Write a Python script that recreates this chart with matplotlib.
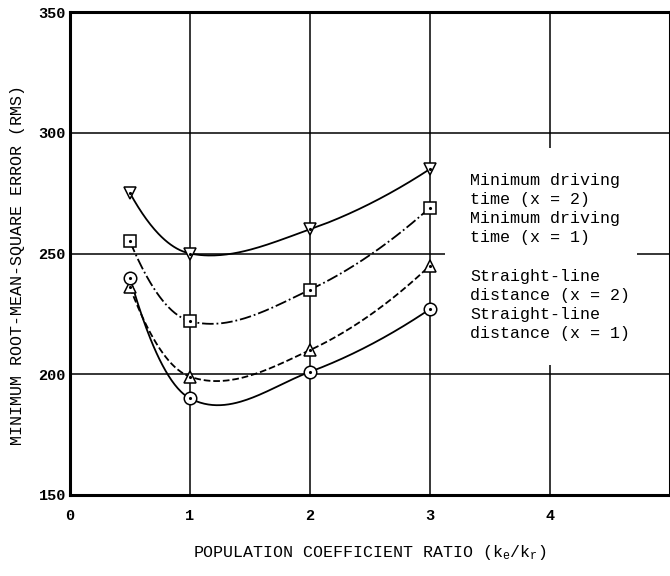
import numpy as np
import matplotlib
matplotlib.use('Agg')
import matplotlib.pyplot as plt
from matplotlib.patches import Rectangle

plt.rcParams['font.family'] = ['Liberation Mono', 'DejaVu Sans Mono']
plt.rcParams['mathtext.fontset'] = 'custom'
plt.rcParams['mathtext.rm'] = 'Liberation Mono'
plt.rcParams['mathtext.it'] = 'Liberation Mono'

# population coefficient ratio ke/kr
ratio = [0.5, 1, 2, 3]

# minimum RMS error per method
drive_x2 = [275, 250, 260, 285]
drive_x1 = [255, 222, 235, 269]
line_x2 = [236, 199, 210, 245]
line_x1 = [240, 190, 201, 227]

labels = ['Minimum driving\ntime (x = 2)', 'Minimum driving\ntime (x = 1)',
          'Straight-line\ndistance (x = 2)', 'Straight-line\ndistance (x = 1)']
markers = ['v', 's', '^', 'o']
styles = ['-', '-.', '--', '-']

xticks = [0, 1, 2, 3, 4]
yticks = [150, 200, 250, 300, 350]


def smooth(x, y, n=60):
    # french-curve look: cubic hermite pieces through the points
    x = np.asarray(x, float)
    y = np.asarray(y, float)
    s = np.diff(y) / np.diff(x)
    m = np.empty_like(y)
    m[1:-1] = (y[2:] - y[:-2]) / (x[2:] - x[:-2])
    m[0] = 2 * s[0] - m[1]
    m[-1] = 2 * s[-1] - m[-2]
    xs, ys = [], []
    for i in range(len(x) - 1):
        h = x[i + 1] - x[i]
        t = np.linspace(0, 1, n)
        h00 = 2 * t**3 - 3 * t**2 + 1
        h10 = t**3 - 2 * t**2 + t
        h01 = -2 * t**3 + 3 * t**2
        h11 = t**3 - t**2
        xs.append(x[i] + t * h)
        ys.append(h00 * y[i] + h10 * h * m[i] + h01 * y[i + 1] + h11 * h * m[i + 1])
    return np.concatenate(xs), np.concatenate(ys)


fig = plt.figure(figsize=(6.7, 5.76), dpi=100)
ax = fig.add_axes([70 / 670, 81 / 576, 600 / 670, 483 / 576])

for y, m, ls in zip([drive_x2, drive_x1, line_x2, line_x1], markers, styles):
    xs, ys = smooth(ratio, y)
    ax.plot(xs, ys, color='black', lw=1.3, ls=ls, zorder=2)
    ax.plot(ratio, y, ls='none', marker=m, ms=9, mfc='white', mec='black', mew=1.1, zorder=3)
    ax.plot(ratio, y, ls='none', marker='.', ms=2.5, color='black', zorder=4)

ax.set_xlim(0, 5)
ax.set_ylim(150, 350)
ax.set_xticks(xticks)
ax.set_yticks(yticks)
ax.tick_params(length=0, labelsize=11, pad=3)
ax.tick_params(axis='x', pad=10)
for t in ax.get_yticklabels() + ax.get_xticklabels():
    t.set_fontweight('bold')
ax.set_axisbelow(True)
ax.grid(True, color='black', lw=1.1)
for s in ax.spines.values():
    s.set_linewidth(2.2)

# blank area behind the key text
ax.add_patch(Rectangle((0.625, 0.269), 0.32, 0.449, transform=ax.transAxes,
                       facecolor='white', edgecolor='none', zorder=1))
key = '\n'.join(labels[:2]) + '\n\n' + '\n'.join(labels[2:])
ax.text(0.667, 0.6675, key, transform=ax.transAxes, fontsize=12, va='top', ha='left',
        linespacing=1.35, zorder=5)

fig.text(370 / 670, 1 - 553 / 576, r'POPULATION COEFFICIENT RATIO (k$_e$/k$_r$)',
         fontsize=12, ha='center', va='center')
fig.text(18 / 670, 1 - 265 / 576, 'MINIMUM ROOT-MEAN-SQUARE ERROR (RMS)',
         fontsize=12, rotation=90, ha='center', va='center')

fig.savefig('out.png', dpi=100)
